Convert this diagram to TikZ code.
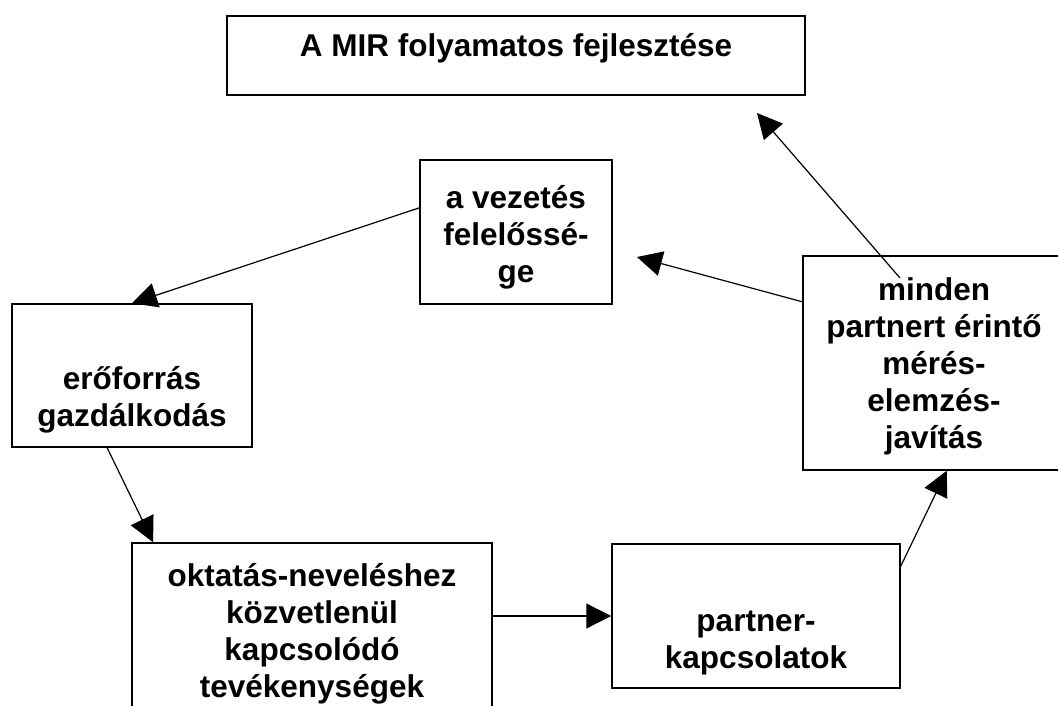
\documentclass[tikz,border=0pt]{standalone}
\usepackage{fontspec}
\setmainfont{Liberation Sans}
\usetikzlibrary{arrows.meta,calc}
\tikzset{
	box/.style={draw, line width=1.5pt, inner sep=0pt},
	txt/.style={align=center, font=\fontsize{31.5}{37}\selectfont\bfseries},
	arr/.style={line width=1.2pt, -{Triangle[length=25pt,width=25pt]}}
}

\begin{document}
\begin{tikzpicture}[x=1pt,y=-1pt]
	\useasboundingbox (0,0) rectangle (1058,706);
	\node[box, minimum width=578pt, minimum height=79pt] (mir) at (516,55.5) {};
	\node[txt] (mir text) at (516,48) {A MIR folyamatos fejlesztése};
	\node[box, minimum width=192pt, minimum height=144pt] (vezetes) at (516,232) {};
	\node[txt] (vezetes text) at (516,237) {a vezetés\\felelőssé-\\ge};
	\node[box, minimum width=240pt, minimum height=143pt] (eroforras) at (132,375.5) {};
	\node[txt] (eroforras text) at (132,400) {erőforrás\\gazdálkodás};
	\node[box, minimum width=360pt, minimum height=182pt] (oktatas) at (312,634) {};
	\node[txt] (oktatas text) at (312,634) {oktatás-neveléshez\\közvetlenül\\kapcsolódó\\tevékenységek};
	\node[box, minimum width=288pt, minimum height=144pt] (partner) at (756,616) {};
	\node[txt] (partner text) at (756,643) {partner-\\kapcsolatok};
	\node[box, minimum width=261pt, minimum height=214pt] (minden) at (933.5,363) {};
	\node[txt] (minden text) at (934,366) {minden\\partnert érintő\\mérés-\\elemzés-\\javítás};
	\coordinate (vezetes tip) at (637,257);
	\coordinate (minden start) at (900,278);
	\coordinate (mir tip) at (757,113);
	\draw[arr] (vezetes.166) -- (eroforras.north);
	\draw[arr] (eroforras.251) -- (oktatas.150);
	\draw[arr] (partner.west -| oktatas.east) -- (partner.west);
	\draw[arr] (partner.19) -- (minden.277);
	\draw[arr] (minden.155) -- (vezetes tip);
	\draw[arr] (minden start) -- (mir tip);
\end{tikzpicture}
\end{document}
